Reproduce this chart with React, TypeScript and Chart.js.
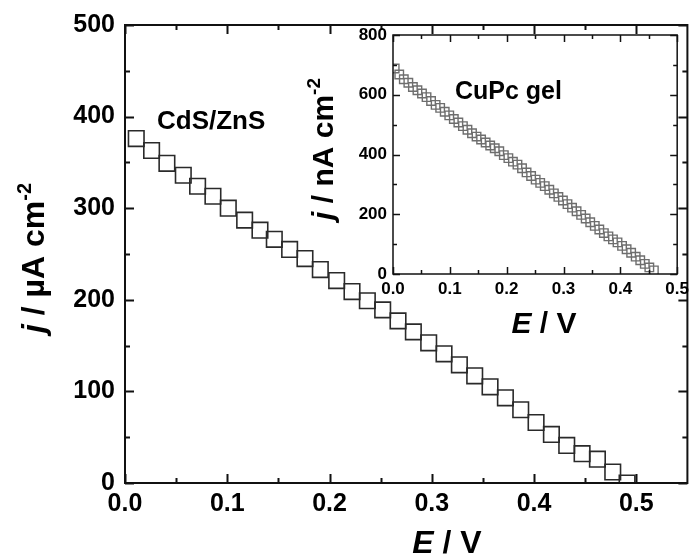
import React, { useEffect, useRef } from 'react';
import { Chart, registerables } from 'chart.js';

Chart.register(...registerables);

// ---- Data ----
const mainE = [0.011, 0.026, 0.041, 0.057, 0.071, 0.086, 0.101, 0.117, 0.132, 0.146, 0.161,
  0.176, 0.191, 0.207, 0.222, 0.237, 0.252, 0.267, 0.282, 0.297, 0.312, 0.327, 0.342,
  0.357, 0.372, 0.387, 0.402, 0.417, 0.432, 0.447, 0.462, 0.477, 0.491];
const mainJ = [376, 363, 349, 336, 324, 313, 300, 287, 276, 266, 255,
  245, 233, 221, 209, 199, 189, 177, 165, 153, 141, 129, 117,
  105, 93, 80, 66, 53, 41, 32, 26, 12, 0];

const insetE = [0.003, 0.011, 0.019, 0.027, 0.035, 0.043, 0.051, 0.059, 0.067, 0.075,
  0.083, 0.091, 0.099, 0.107, 0.115, 0.123, 0.131, 0.139, 0.147, 0.155,
  0.163, 0.171, 0.179, 0.187, 0.195, 0.203, 0.211, 0.219, 0.227, 0.235,
  0.243, 0.251, 0.259, 0.267, 0.275, 0.283, 0.291, 0.299, 0.307, 0.315,
  0.323, 0.331, 0.339, 0.347, 0.355, 0.363, 0.371, 0.379, 0.387, 0.395,
  0.403, 0.411, 0.419, 0.427, 0.435, 0.443, 0.451, 0.459];
const insetJ = [688, 668, 652, 640, 626, 615, 604, 592, 579, 566,
  556, 543, 531, 519, 507, 495, 483, 471, 460, 450,
  440, 430, 421, 411, 398, 388, 376, 366, 354, 340,
  328, 316, 305, 294, 282, 270, 258, 246, 234, 222,
  210, 198, 186, 173, 161, 149, 137, 126, 116, 106,
  94, 83, 71, 58, 46, 34, 22, 12];

const mainXTicks = [0, 0.1, 0.2, 0.3, 0.4, 0.5];
const mainYTicks = [0, 100, 200, 300, 400, 500];
const insetXTicks = [0, 0.1, 0.2, 0.3, 0.4, 0.5];
const insetYTicks = [0, 200, 400, 600, 800];

const mainLabel = 'CdS/ZnS';
const insetLabel = 'CuPc gel';

const FONT = '"Liberation Sans", Arial, Helvetica, sans-serif';

type Part = { t: string; i?: boolean; sup?: boolean };
type TextItem = { parts: Part[]; x: number; y: number; size: number; rotate?: boolean; align: 'left' | 'center' };

function drawRich(ctx: CanvasRenderingContext2D, item: TextItem) {
  const { parts, x, y, size, rotate, align } = item;
  ctx.save();
  ctx.translate(x, y);
  if (rotate) ctx.rotate(-Math.PI / 2);
  const fontFor = (p: Part) => `${p.i ? 'italic ' : ''}bold ${p.sup ? Math.round(size * 0.62) : size}px ${FONT}`;
  let w = 0;
  for (const p of parts) {
    ctx.font = fontFor(p);
    w += ctx.measureText(p.t).width;
  }
  let cx = align === 'center' ? -w / 2 : 0;
  ctx.textBaseline = 'alphabetic';
  ctx.textAlign = 'left';
  ctx.fillStyle = '#000';
  for (const p of parts) {
    ctx.font = fontFor(p);
    ctx.fillText(p.t, cx, p.sup ? -size * 0.42 : 0);
    cx += ctx.measureText(p.t).width;
  }
  ctx.restore();
}

const framePlugin = {
  id: 'frame',
  afterDraw(chart: any, _args: any, opts: any) {
    const { ctx, chartArea: a, scales } = chart;
    const x = scales.x;
    const y = scales.y;
    ctx.save();
    ctx.strokeStyle = '#111';
    ctx.lineWidth = opts.lw;
    ctx.lineCap = 'butt';
    ctx.strokeRect(a.left, a.top, a.right - a.left, a.bottom - a.top);

    const withMinor = (vals: number[], max: number) => {
      const out: { v: number; major: boolean }[] = [];
      for (let k = 0; k < vals.length; k++) {
        out.push({ v: vals[k], major: true });
        if (k < vals.length - 1) out.push({ v: (vals[k] + vals[k + 1]) / 2, major: false });
      }
      return out.filter((o) => o.v <= max + 1e-9);
    };
    const xv = withMinor(x.ticks.map((t: any) => t.value), x.max);
    const yv = withMinor(y.ticks.map((t: any) => t.value), y.max);
    ctx.lineWidth = opts.tw;
    ctx.beginPath();
    for (const o of xv) {
      const px = Math.round(x.getPixelForValue(o.v)) + 0.5;
      const len = o.major ? opts.major : opts.minor;
      ctx.moveTo(px, a.bottom);
      ctx.lineTo(px, a.bottom - len);
      ctx.moveTo(px, a.top);
      ctx.lineTo(px, a.top + len);
    }
    for (const o of yv) {
      const py = Math.round(y.getPixelForValue(o.v)) + 0.5;
      const len = o.major ? opts.major : opts.minor;
      ctx.moveTo(a.left, py);
      ctx.lineTo(a.left + len, py);
      ctx.moveTo(a.right, py);
      ctx.lineTo(a.right - len, py);
    }
    ctx.stroke();
    ctx.restore();
    for (const t of opts.texts as TextItem[]) drawRich(ctx, t);
  },
};

function makeConfig(p: {
  xs: number[]; ys: number[]; xTicks: number[]; yTicks: number[];
  xMax: number; yMax: number; xFmt: (v: number) => string;
  padTop: number; padRight: number; xH: number; yW: number;
  tickSize: number; xPad: number; yPad: number;
  radius: number; color: string; bw: number;
  lw: number; tw: number; major: number; minor: number; texts: TextItem[];
}): any {
  return {
    type: 'scatter',
    data: {
      datasets: [{
        data: p.xs.map((v, i) => ({ x: v, y: p.ys[i] })),
        pointStyle: 'rect',
        pointRadius: p.radius,
        pointHoverRadius: p.radius,
        pointBorderWidth: p.bw,
        pointBorderColor: p.color,
        pointBackgroundColor: 'rgba(0,0,0,0)',
        showLine: false,
        clip: 0,
      }],
    },
    options: {
      responsive: false,
      animation: false,
      events: [],
      layout: { padding: { top: p.padTop, right: p.padRight, left: 0, bottom: 0 } },
      plugins: {
        legend: { display: false },
        tooltip: { enabled: false },
        frame: { lw: p.lw, tw: p.tw, major: p.major, minor: p.minor, texts: p.texts },
      },
      scales: {
        x: {
          type: 'linear', min: 0, max: p.xMax,
          grid: { display: false, drawTicks: false },
          border: { display: false },
          afterBuildTicks: (s: any) => { s.ticks = p.xTicks.map((v) => ({ value: v })); },
          afterFit: (s: any) => { s.height = p.xH; },
          ticks: {
            padding: p.xPad, color: '#000', maxRotation: 0, autoSkip: false,
            font: { family: FONT, size: p.tickSize, weight: 'bold' },
            callback: (v: any) => p.xFmt(Number(v)),
          },
        },
        y: {
          type: 'linear', min: 0, max: p.yMax,
          grid: { display: false, drawTicks: false },
          border: { display: false },
          afterBuildTicks: (s: any) => { s.ticks = p.yTicks.map((v) => ({ value: v })); },
          afterFit: (s: any) => { s.width = p.yW; },
          ticks: {
            padding: p.yPad, color: '#000', autoSkip: false,
            font: { family: FONT, size: p.tickSize, weight: 'bold' },
            callback: (v: any) => String(Math.round(Number(v))),
          },
        },
      },
    },
    plugins: [framePlugin],
  };
}

export default function App() {
  const mainRef = useRef<HTMLCanvasElement>(null);
  const insetRef = useRef<HTMLCanvasElement>(null);

  useEffect(() => {
    const main = new Chart(mainRef.current as HTMLCanvasElement, makeConfig({
      xs: mainE, ys: mainJ, xTicks: mainXTicks, yTicks: mainYTicks,
      xMax: 0.55, yMax: 500, xFmt: (v) => v.toFixed(1),
      padTop: 24, padRight: 4, xH: 73, yW: 125,
      tickSize: 25, xPad: 6, yPad: 10,
      radius: 11, color: '#2a2a2a', bw: 1.6,
      lw: 2, tw: 2, major: 9, minor: 5,
      texts: [
        { parts: [{ t: mainLabel }], x: 157, y: 129, size: 26, align: 'left' },
        { parts: [{ t: 'E', i: true }, { t: ' / V' }], x: 447, y: 553, size: 32, align: 'center' },
        { parts: [{ t: 'j', i: true }, { t: ' / µA cm' }, { t: '-2', sup: true }], x: 44, y: 258, size: 32, rotate: true, align: 'center' },
      ],
    }));
    const inset = new Chart(insetRef.current as HTMLCanvasElement, makeConfig({
      xs: insetE, ys: insetJ, xTicks: insetXTicks, yTicks: insetYTicks,
      xMax: 0.5, yMax: 800, xFmt: (v) => v.toFixed(1),
      padTop: 35, padRight: 6, xH: 71, yW: 93,
      tickSize: 17, xPad: 5, yPad: 6,
      radius: 6, color: '#6e6e6e', bw: 1.4,
      lw: 1.5, tw: 1.5, major: 7, minor: 4,
      texts: [
        { parts: [{ t: insetLabel }], x: 155, y: 99, size: 25, align: 'left' },
        { parts: [{ t: 'E', i: true }, { t: ' / V' }], x: 244, y: 333, size: 30, align: 'center' },
        { parts: [{ t: 'j', i: true }, { t: ' / nA cm' }, { t: '-2', sup: true }], x: 33, y: 149, size: 30, rotate: true, align: 'center' },
      ],
    }));
    return () => {
      main.destroy();
      inset.destroy();
    };
  }, []);

  return (
    <div style={{ position: 'fixed', left: 0, top: 0, width: 694, height: 556, overflow: 'hidden', background: '#fff' }}>
      <canvas ref={mainRef} width={700} height={556} style={{ position: 'absolute', left: 0, top: 0, width: 700, height: 556 }} />
      <canvas ref={insetRef} width={394} height={345} style={{ position: 'absolute', left: 300, top: 0, width: 394, height: 345 }} />
    </div>
  );
}
